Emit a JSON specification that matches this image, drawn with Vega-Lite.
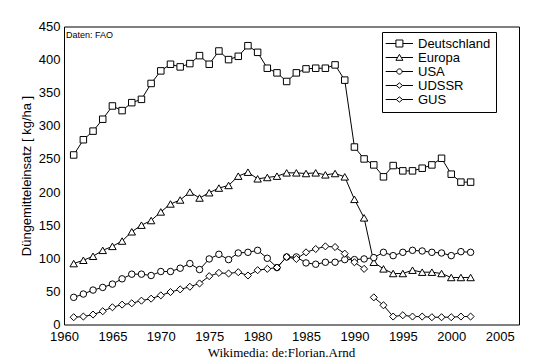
{
  "$schema": "https://vega.github.io/schema/vega-lite/v6.json",
  "width": 455,
  "height": 298,
  "autosize": "none",
  "padding": {"left": 64, "top": 26.5, "right": 19, "bottom": 39.5},
  "background": "white",
  "config": {
    "view": {"stroke": "black", "strokeWidth": 1},
    "font": "Liberation Sans"
  },
  "title": {"text": "Daten: FAO", "anchor": "start", "frame": "group", "orient": "top", "offset": -3, "baseline": "top", "fontSize": 9, "fontWeight": "normal", "font": "Liberation Sans", "color": "black", "dx": 2, "dy": 16},
  "data": {"values": [
    {"series": "Deutschland", "year": 1961, "value": 256},
    {"series": "Deutschland", "year": 1962, "value": 279},
    {"series": "Deutschland", "year": 1963, "value": 292},
    {"series": "Deutschland", "year": 1964, "value": 310},
    {"series": "Deutschland", "year": 1965, "value": 330},
    {"series": "Deutschland", "year": 1966, "value": 323},
    {"series": "Deutschland", "year": 1967, "value": 335},
    {"series": "Deutschland", "year": 1968, "value": 340},
    {"series": "Deutschland", "year": 1969, "value": 364},
    {"series": "Deutschland", "year": 1970, "value": 383},
    {"series": "Deutschland", "year": 1971, "value": 393},
    {"series": "Deutschland", "year": 1972, "value": 389},
    {"series": "Deutschland", "year": 1973, "value": 394},
    {"series": "Deutschland", "year": 1974, "value": 406},
    {"series": "Deutschland", "year": 1975, "value": 393},
    {"series": "Deutschland", "year": 1976, "value": 413},
    {"series": "Deutschland", "year": 1977, "value": 400},
    {"series": "Deutschland", "year": 1978, "value": 405},
    {"series": "Deutschland", "year": 1979, "value": 421},
    {"series": "Deutschland", "year": 1980, "value": 411},
    {"series": "Deutschland", "year": 1981, "value": 387},
    {"series": "Deutschland", "year": 1982, "value": 380},
    {"series": "Deutschland", "year": 1983, "value": 367},
    {"series": "Deutschland", "year": 1984, "value": 380},
    {"series": "Deutschland", "year": 1985, "value": 386},
    {"series": "Deutschland", "year": 1986, "value": 387},
    {"series": "Deutschland", "year": 1987, "value": 387},
    {"series": "Deutschland", "year": 1988, "value": 392},
    {"series": "Deutschland", "year": 1989, "value": 369},
    {"series": "Deutschland", "year": 1990, "value": 268},
    {"series": "Deutschland", "year": 1991, "value": 250},
    {"series": "Deutschland", "year": 1992, "value": 241},
    {"series": "Deutschland", "year": 1993, "value": 223},
    {"series": "Deutschland", "year": 1994, "value": 240},
    {"series": "Deutschland", "year": 1995, "value": 232},
    {"series": "Deutschland", "year": 1996, "value": 232},
    {"series": "Deutschland", "year": 1997, "value": 236},
    {"series": "Deutschland", "year": 1998, "value": 241},
    {"series": "Deutschland", "year": 1999, "value": 251},
    {"series": "Deutschland", "year": 2000, "value": 227},
    {"series": "Deutschland", "year": 2001, "value": 215},
    {"series": "Deutschland", "year": 2002, "value": 215},
    {"series": "Europa", "year": 1961, "value": 92},
    {"series": "Europa", "year": 1962, "value": 97},
    {"series": "Europa", "year": 1963, "value": 103},
    {"series": "Europa", "year": 1964, "value": 112},
    {"series": "Europa", "year": 1965, "value": 118},
    {"series": "Europa", "year": 1966, "value": 126},
    {"series": "Europa", "year": 1967, "value": 140},
    {"series": "Europa", "year": 1968, "value": 150},
    {"series": "Europa", "year": 1969, "value": 157},
    {"series": "Europa", "year": 1970, "value": 170},
    {"series": "Europa", "year": 1971, "value": 182},
    {"series": "Europa", "year": 1972, "value": 188},
    {"series": "Europa", "year": 1973, "value": 200},
    {"series": "Europa", "year": 1974, "value": 191},
    {"series": "Europa", "year": 1975, "value": 199},
    {"series": "Europa", "year": 1976, "value": 206},
    {"series": "Europa", "year": 1977, "value": 210},
    {"series": "Europa", "year": 1978, "value": 224},
    {"series": "Europa", "year": 1979, "value": 230},
    {"series": "Europa", "year": 1980, "value": 220},
    {"series": "Europa", "year": 1981, "value": 222},
    {"series": "Europa", "year": 1982, "value": 224},
    {"series": "Europa", "year": 1983, "value": 229},
    {"series": "Europa", "year": 1984, "value": 229},
    {"series": "Europa", "year": 1985, "value": 228},
    {"series": "Europa", "year": 1986, "value": 229},
    {"series": "Europa", "year": 1987, "value": 226},
    {"series": "Europa", "year": 1988, "value": 228},
    {"series": "Europa", "year": 1989, "value": 223},
    {"series": "Europa", "year": 1990, "value": 189},
    {"series": "Europa", "year": 1991, "value": 161},
    {"series": "Europa", "year": 1992, "value": 94},
    {"series": "Europa", "year": 1993, "value": 84},
    {"series": "Europa", "year": 1994, "value": 77},
    {"series": "Europa", "year": 1995, "value": 77},
    {"series": "Europa", "year": 1996, "value": 82},
    {"series": "Europa", "year": 1997, "value": 79},
    {"series": "Europa", "year": 1998, "value": 79},
    {"series": "Europa", "year": 1999, "value": 77},
    {"series": "Europa", "year": 2000, "value": 71},
    {"series": "Europa", "year": 2001, "value": 71},
    {"series": "Europa", "year": 2002, "value": 71},
    {"series": "USA", "year": 1961, "value": 41},
    {"series": "USA", "year": 1962, "value": 46},
    {"series": "USA", "year": 1963, "value": 52},
    {"series": "USA", "year": 1964, "value": 56},
    {"series": "USA", "year": 1965, "value": 61},
    {"series": "USA", "year": 1966, "value": 69},
    {"series": "USA", "year": 1967, "value": 76},
    {"series": "USA", "year": 1968, "value": 76},
    {"series": "USA", "year": 1969, "value": 74},
    {"series": "USA", "year": 1970, "value": 80},
    {"series": "USA", "year": 1971, "value": 80},
    {"series": "USA", "year": 1972, "value": 85},
    {"series": "USA", "year": 1973, "value": 92},
    {"series": "USA", "year": 1974, "value": 83},
    {"series": "USA", "year": 1975, "value": 99},
    {"series": "USA", "year": 1976, "value": 106},
    {"series": "USA", "year": 1977, "value": 98},
    {"series": "USA", "year": 1978, "value": 108},
    {"series": "USA", "year": 1979, "value": 109},
    {"series": "USA", "year": 1980, "value": 112},
    {"series": "USA", "year": 1981, "value": 100},
    {"series": "USA", "year": 1982, "value": 86},
    {"series": "USA", "year": 1983, "value": 102},
    {"series": "USA", "year": 1984, "value": 102},
    {"series": "USA", "year": 1985, "value": 93},
    {"series": "USA", "year": 1986, "value": 91},
    {"series": "USA", "year": 1987, "value": 94},
    {"series": "USA", "year": 1988, "value": 94},
    {"series": "USA", "year": 1989, "value": 98},
    {"series": "USA", "year": 1990, "value": 98},
    {"series": "USA", "year": 1991, "value": 99},
    {"series": "USA", "year": 1992, "value": 101},
    {"series": "USA", "year": 1993, "value": 109},
    {"series": "USA", "year": 1994, "value": 104},
    {"series": "USA", "year": 1995, "value": 109},
    {"series": "USA", "year": 1996, "value": 112},
    {"series": "USA", "year": 1997, "value": 111},
    {"series": "USA", "year": 1998, "value": 109},
    {"series": "USA", "year": 1999, "value": 108},
    {"series": "USA", "year": 2000, "value": 104},
    {"series": "USA", "year": 2001, "value": 110},
    {"series": "USA", "year": 2002, "value": 109},
    {"series": "UDSSR", "year": 1961, "value": 11},
    {"series": "UDSSR", "year": 1962, "value": 12},
    {"series": "UDSSR", "year": 1963, "value": 15},
    {"series": "UDSSR", "year": 1964, "value": 20},
    {"series": "UDSSR", "year": 1965, "value": 26},
    {"series": "UDSSR", "year": 1966, "value": 30},
    {"series": "UDSSR", "year": 1967, "value": 32},
    {"series": "UDSSR", "year": 1968, "value": 36},
    {"series": "UDSSR", "year": 1969, "value": 39},
    {"series": "UDSSR", "year": 1970, "value": 44},
    {"series": "UDSSR", "year": 1971, "value": 49},
    {"series": "UDSSR", "year": 1972, "value": 53},
    {"series": "UDSSR", "year": 1973, "value": 57},
    {"series": "UDSSR", "year": 1974, "value": 62},
    {"series": "UDSSR", "year": 1975, "value": 73},
    {"series": "UDSSR", "year": 1976, "value": 78},
    {"series": "UDSSR", "year": 1977, "value": 77},
    {"series": "UDSSR", "year": 1978, "value": 79},
    {"series": "UDSSR", "year": 1979, "value": 74},
    {"series": "UDSSR", "year": 1980, "value": 82},
    {"series": "UDSSR", "year": 1981, "value": 84},
    {"series": "UDSSR", "year": 1982, "value": 86},
    {"series": "UDSSR", "year": 1983, "value": 102},
    {"series": "UDSSR", "year": 1984, "value": 99},
    {"series": "UDSSR", "year": 1985, "value": 109},
    {"series": "UDSSR", "year": 1986, "value": 114},
    {"series": "UDSSR", "year": 1987, "value": 118},
    {"series": "UDSSR", "year": 1988, "value": 117},
    {"series": "UDSSR", "year": 1989, "value": 107},
    {"series": "UDSSR", "year": 1990, "value": 94},
    {"series": "UDSSR", "year": 1991, "value": 84},
    {"series": "GUS", "year": 1992, "value": 41},
    {"series": "GUS", "year": 1993, "value": 29},
    {"series": "GUS", "year": 1994, "value": 12},
    {"series": "GUS", "year": 1995, "value": 14},
    {"series": "GUS", "year": 1996, "value": 12},
    {"series": "GUS", "year": 1997, "value": 12},
    {"series": "GUS", "year": 1998, "value": 11},
    {"series": "GUS", "year": 1999, "value": 11},
    {"series": "GUS", "year": 2000, "value": 11},
    {"series": "GUS", "year": 2001, "value": 12},
    {"series": "GUS", "year": 2002, "value": 12}
  ]},
  "encoding": {
    "x": {
      "field": "year", "type": "quantitative",
      "scale": {"domain": [1960, 2007], "nice": false, "zero": false},
      "axis": {
        "values": [1960, 1965, 1970, 1975, 1980, 1985, 1990, 1995, 2000, 2005],
        "format": "d", "ticks": false, "grid": false, "domain": false,
        "labelFlush": false, "labelOverlap": false,
        "labelPadding": 6, "labelDx": 5, "labelFontSize": 13, "labelFont": "Liberation Sans", "labelColor": "black",
        "title": "Wikimedia: de:Florian.Arnd", "titleFont": "Liberation Serif", "titleFontSize": 13,
        "titleFontWeight": "normal", "titleColor": "black", "titleX": 217, "titlePadding": 3
      }
    },
    "y": {
      "field": "value", "type": "quantitative",
      "scale": {"domain": [0, 450], "nice": false},
      "axis": {
        "values": [0, 50, 100, 150, 200, 250, 300, 350, 400, 450],
        "ticks": false, "grid": false, "domain": false,
        "labelPadding": 4, "labelFontSize": 13, "labelFont": "Liberation Sans", "labelColor": "black",
        "title": "Düngemitteleinsatz [ kg/ha ]", "titleFont": "Liberation Sans", "titleFontSize": 13,
        "titleFontWeight": "normal", "titleColor": "black", "titlePadding": 5
      }
    }
  },
  "layer": [
    {
      "mark": {"type": "line", "color": "black", "strokeWidth": 1},
      "encoding": {"detail": {"field": "series", "type": "nominal"}}
    },
    {
      "mark": {"type": "point", "filled": false, "fill": "white", "fillOpacity": 1, "stroke": "black", "strokeWidth": 1, "opacity": 1},
      "encoding": {
        "shape": {"field": "series", "type": "nominal",
          "scale": {"domain": ["Deutschland", "Europa", "USA", "UDSSR", "GUS"], "range": ["square", "triangle-up", "circle", "diamond", "diamond"]},
          "legend": null},
        "size": {"field": "series", "type": "nominal",
          "scale": {"type": "ordinal", "domain": ["Deutschland", "Europa", "USA", "UDSSR", "GUS"], "range": [42, 56, 42, 50, 50]},
          "legend": null}
      }
    },
    {
      "mark": {"type": "point", "opacity": 0, "filled": false, "stroke": "black", "strokeWidth": 1, "size": 49},
      "encoding": {
        "shape": {"field": "series", "type": "nominal",
          "scale": {"domain": ["Deutschland", "Europa", "USA", "UDSSR", "GUS"],
            "range": [
              "M-2.23,0H0.69M2.69,0H5.57M0.69,-1H2.69V1H0.69Z",
              "M-2.23,0H1.16M2.22,0H5.57M1.69,-0.9L2.69,0.8L0.69,0.8Z",
              "M-2.23,0H0.94M2.44,0H5.57M0.94,0A0.75,0.75 0 1,0 2.44,0A0.75,0.75 0 1,0 0.94,0Z",
              "M-2.23,0H0.79M2.59,0H5.57M0.79,0L1.69,-0.75L2.59,0L1.69,0.75Z",
              "M-2.23,0H0.79M2.59,0H5.57M0.79,0L1.69,-0.75L2.59,0L1.69,0.75Z"
            ]},
          "legend": {
            "title": null, "orient": "none", "legendX": 318, "legendY": 5.5,
            "strokeColor": "black", "fillColor": "white", "padding": 5,
            "symbolSize": 49, "symbolStrokeColor": "black", "symbolFillColor": "white",
            "symbolStrokeWidth": 1, "symbolOpacity": 1,
            "labelFont": "Liberation Sans", "labelFontSize": 13, "labelColor": "black",
            "labelOffset": 18, "rowPadding": -1.5
          }
        }
      }
    }
  ],
  "resolve": {"scale": {"shape": "independent"}}
}
